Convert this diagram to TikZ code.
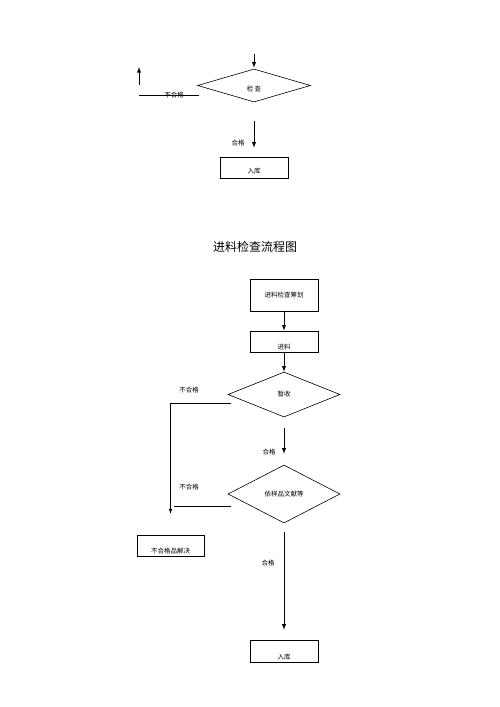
\documentclass[tikz,border=0pt]{standalone}
\usepackage{fontspec}
\newfontfamily\cjk{Noto Sans CJK SC}
\usepackage{tikz}
\usetikzlibrary{arrows,shapes.geometric}

\begin{document}
\begin{tikzpicture}[x=1pt, y=-1pt, >=latex,
  box/.style={draw, line width=0.6pt, inner sep=0pt, font=\cjk\fontsize{6.5}{7}\selectfont},
  chk/.style={draw, diamond, line width=0.6pt, inner sep=0pt, font=\cjk\fontsize{6.5}{7}\selectfont},
  low/.style={text height=#1, text depth=0pt},
  lbl/.style={font=\cjk\fontsize{6.5}{7}\selectfont, inner sep=1pt},
  flow/.style={->, line width=0.9pt}]
\useasboundingbox (0,0) rectangle (500,707);
%\draw (0,0) grid (500,707);

% upper part
\coordinate (tin) at (254,54);
\node [chk, low=12pt, minimum width=113pt, minimum height=33pt] (jc) at (254,85.5) {检 查};
\draw [flow, shorten >=1pt] (tin) -- (jc);

\coordinate (upb) at (139,85); \coordinate (upt) at (139,67);
\draw [flow] (upb) -- (upt);
\coordinate (nl) at (139,95); \coordinate (nr) at (199,95);
\draw [line width=0.6pt] (nl) -- (nr);
\node [lbl] (bhg0) at (174,95) {不合格};

\node [box, low=12pt, minimum width=68pt, minimum height=21pt] (rk1) at (254,167.5) {入库};
\draw [flow, shorten <=19pt, shorten >=9pt] (jc) -- (rk1);
\node [lbl] (hg0) at (238,143) {合格};

% title
\node [font=\cjk\fontsize{12}{14}\selectfont] (title) at (255,247) {进料检查流程图};

% lower part
\node [box, minimum width=68pt, minimum height=32pt] (plan) at (284,295) {进料检查筹划};
\node [box, low=15pt, minimum width=68pt, minimum height=21pt] (jl) at (284,341.5) {进料};
\node [chk, minimum width=112pt, minimum height=45pt] (zs) at (284,394.5) {暂收};
\node [chk, minimum width=112pt, minimum height=58pt] (yp) at (284,494) {依样品文献等};
\node [box, low=15pt, minimum width=67pt, minimum height=21pt] (bh) at (170.5,545.5) {不合格品解决};
\node [box, low=16pt, minimum width=68pt, minimum height=22pt] (rk2) at (284,651) {入库};

\draw [flow] (plan) -- (jl);
\draw [flow] (jl) -- (zs);
\draw [flow, shorten <=11pt, shorten >=11pt] (zs) -- (yp);
\draw [flow, shorten <=9pt, shorten >=10pt] (yp) -- (rk2);

\draw [->, line width=0.7pt, shorten >=21pt] ([shift={(3,8.5)}]zs.west) -| (bh.north);
\draw [line width=0.7pt] ([shift={(3,12)}]yp.west) -- ([shift={(3,12)}]yp.west -| bh.north);

\node [lbl] (bhg1) at (189,390) {不合格};
\node [lbl] (bhg2) at (189,487) {不合格};
\node [lbl] (hg1) at (269,452) {合格};
\node [lbl] (hg2) at (268,563) {合格};

\end{tikzpicture}
\end{document}
